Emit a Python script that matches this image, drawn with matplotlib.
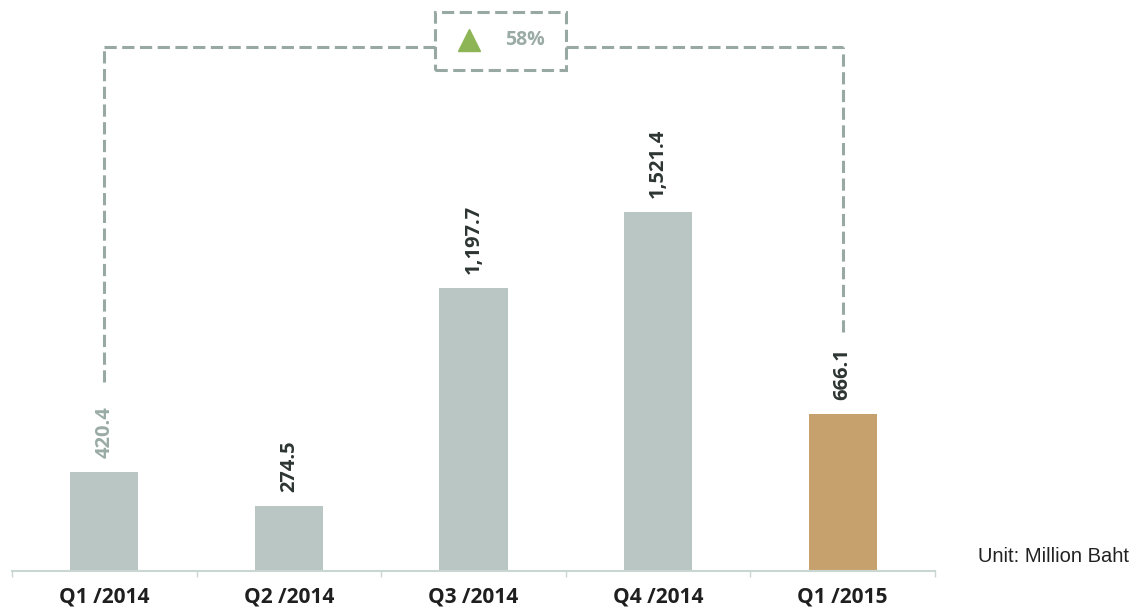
import matplotlib.pyplot as plt
from matplotlib.patches import Rectangle

# Data
quarters = ["Q1 /2014", "Q2 /2014", "Q3 /2014", "Q4 /2014", "Q1 /2015"]
values = [420.4, 274.5, 1197.7, 1521.4, 666.1]
value_labels = ["420.4", "274.5", "1,197.7", "1,521.4", "666.1"]
growth_label = "58%"

bar_colors = ["#b9c6c3"] * 4 + ["#c7a16d"]
label_colors = ["#9aaba6", "#2d3532", "#2d3532", "#2d3532", "#2d3532"]
dash_color = "#98a8a3"

fig = plt.figure(figsize=(11.37, 6.11), dpi=100)
ax = fig.add_axes([12 / 1137, 1 - 571 / 611, 923 / 1137, 571 / 611])

x = list(range(len(quarters)))
ax.bar(x, values, width=0.37, color=bar_colors)

ax.set_xlim(-0.5, 4.5)
ymax = 571 / 0.236
ax.set_ylim(0, ymax)

for s in ["top", "right", "left"]:
    ax.spines[s].set_visible(False)
ax.spines["bottom"].set_color("#c9d6d2")
ax.spines["bottom"].set_linewidth(1.5)
ax.set_yticks([])
ax.set_xticks([-0.5, 0.5, 1.5, 2.5, 3.5, 4.5])
ax.set_xticklabels([])
ax.tick_params(axis="x", length=4, color="#c9d6d2", width=1)
ax.set_xticks(x, minor=True)
ax.set_xticklabels(quarters, minor=True, fontsize=15, fontweight="bold",
                   color="#1f1f1f", family="Open Sans")
ax.tick_params(axis="x", which="minor", length=0, pad=11)

# value labels
for xi, v, lab, c in zip(x, values, value_labels, label_colors):
    ax.text(xi, v + 60, lab, rotation=90, ha="center", va="bottom",
            fontsize=14.5, fontweight="bold", color=c, family="Open Sans")

# dashed bracket
px = 1 / 0.236
top_y = (571 - 47) * px
left_bottom = (571 - 382) * px
right_bottom = (571 - 332) * px
dash_kw = dict(color=dash_color, lw=2.2, ls=(0, (4, 1.8)), clip_on=False)
ax.plot([0, 0], [left_bottom, top_y], **dash_kw)
ax.plot([4, 4], [right_bottom, top_y], **dash_kw)
# horizontal segments to the box
box_l = (435 - 12) / 184.6 - 0.5
box_r = (566 - 12) / 184.6 - 0.5
ax.plot([0, box_l], [top_y, top_y], **dash_kw)
ax.plot([box_r, 4], [top_y, top_y], **dash_kw)
box_b = (571 - 70) * px
box_t = (571 - 12) * px
ax.add_patch(Rectangle((box_l, box_b), box_r - box_l, box_t - box_b,
                       fill=False, edgecolor=dash_color, lw=2.2,
                       ls=(0, (4, 1.8)), clip_on=False))
tri_x = (469 - 12) / 184.6 - 0.5
ax.plot([tri_x], [(571 - 40) * px], marker="^", markersize=16,
        color="#8db556", clip_on=False)
ax.text((525 - 12) / 184.6 - 0.5, (571 - 40) * px, growth_label,
        ha="center", va="center", fontsize=14, fontweight="bold",
        color="#9aaba6", family="Open Sans")

fig.text(1053 / 1137, 1 - 557 / 611, "Unit: Million Baht", ha="center",
         va="center", fontsize=14.5, color="#222222", family="Liberation Sans")

fig.savefig("out.png", dpi=100)
